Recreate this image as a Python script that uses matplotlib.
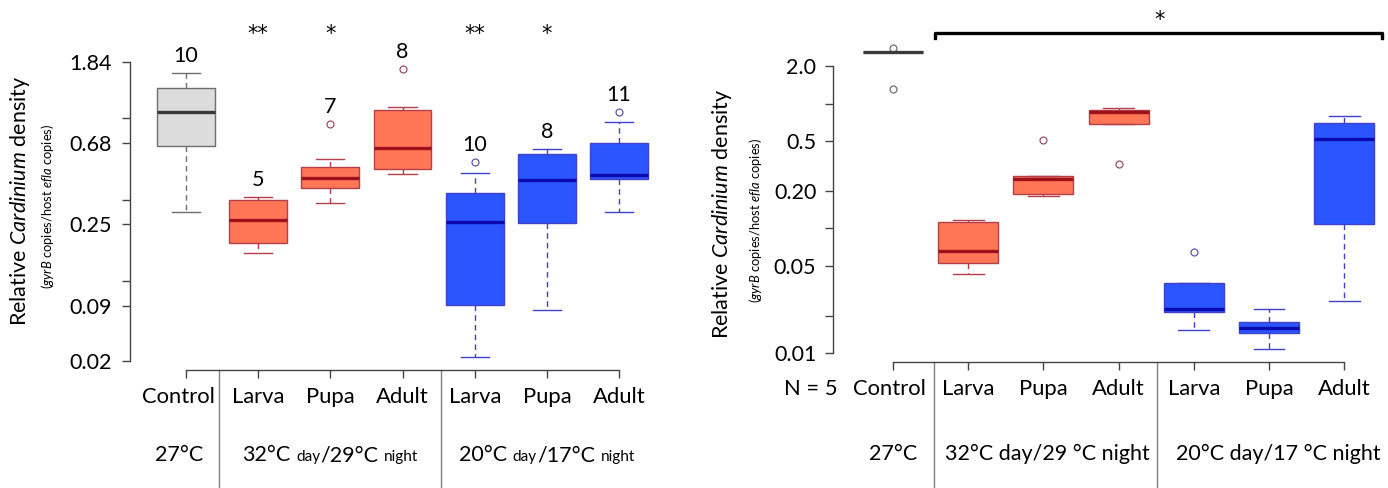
import matplotlib

matplotlib.use("Agg")
import matplotlib.pyplot as plt
from matplotlib.transforms import IdentityTransform, ScaledTranslation, blended_transform_factory

plt.rcParams["font.family"] = ["Lato", "DejaVu Sans"]
plt.rcParams["mathtext.fontset"] = "custom"
plt.rcParams["mathtext.rm"] = "Lato"
plt.rcParams["mathtext.it"] = "Lato:italic"

# ---- data ----
categories = ["Control", "Larva", "Pupa", "Adult", "Larva", "Pupa", "Adult"]
groups = ["control", "hot", "hot", "hot", "cold", "cold", "cold"]

# left panel: summary statistics of relative density
left_whislo = [0.289, 0.174, 0.323, 0.462, 0.048, 0.086, 0.289]
left_q1 = [0.652, 0.197, 0.388, 0.491, 0.091, 0.252, 0.433]
left_med = [0.993, 0.262, 0.440, 0.636, 0.255, 0.429, 0.455]
left_q3 = [1.335, 0.335, 0.503, 1.017, 0.365, 0.591, 0.676]
left_whishi = [1.61, 0.347, 0.555, 1.055, 0.467, 0.629, 0.876]
left_fliers = [[], [], [0.855], [1.687], [0.535], [], [0.991]]
left_n = [10, 5, 7, 8, 10, 8, 11]
left_stars = ["", "**", "*", "", "**", "*", ""]
left_tick_vals = [1.84, 0.68, 0.25, 0.09, 0.0459]
left_tick_labels = ["1.84", "0.68", "0.25", "0.09", "0.02"]
left_minor = [0.922, 0.335, 0.123]

# right panel (N = 5 per group)
right_whislo = [2.61, 0.0430, 0.182, 0.689, 0.0153, 0.0108, 0.0261]
right_q1 = [2.61, 0.0527, 0.189, 0.689, 0.0213, 0.0145, 0.1084]
right_med = [2.61, 0.0659, 0.249, 0.859, 0.0226, 0.0159, 0.522]
right_q3 = [2.61, 0.1124, 0.263, 0.891, 0.0365, 0.0177, 0.702]
right_whishi = [2.61, 0.1167, 0.263, 0.925, 0.0365, 0.0226, 0.798]
right_fliers = [[2.80, 1.31], [], [0.511], [0.329], [0.0647], [], []]
right_tick_vals = [2.0, 0.5, 0.2, 0.05, 0.01]
right_tick_labels = ["2.0", "0.5", "0.20", "0.05", "0.01"]
right_minor = [1.0, 0.1, 0.02]

# ---- styling ----
STYLE = {
    "control": dict(fill="#DCDCDC", edge="#6E6E6E", median="#3A3A3A", flier="#707070"),
    "hot": dict(fill="#FF7657", edge="#B2404A", median="#A0101A", flier="#94506A"),
    "cold": dict(fill="#2B56FF", edge="#4040C8", median="#0A0AB0", flier="#5A5AA8"),
}
AXIS_COLOR = "#444444"
W, H = 1388, 488
STAR_FONT = dict(family="DejaVu Sans", fontsize=15)
XLAB_SIZE = 15.8
TICK_PAD = 6


def draw_boxes(ax, whislo, q1, med, q3, whishi, fliers, width, capwidth):
    for i in range(len(med)):
        st = STYLE[groups[i]]
        stats = [dict(whislo=whislo[i], q1=q1[i], med=med[i], q3=q3[i],
                      whishi=whishi[i], fliers=fliers[i])]
        ax.bxp(stats, positions=[i + 1], widths=width, capwidths=capwidth,
               patch_artist=True, manage_ticks=False,
               boxprops=dict(facecolor=st["fill"], edgecolor=st["edge"], linewidth=1.0),
               whiskerprops=dict(color=st["edge"], linewidth=1.0, linestyle=(0, (4, 3))),
               capprops=dict(color=st["edge"], linewidth=1.0),
               medianprops=dict(color=st["median"], linewidth=2.4, solid_capstyle="butt"),
               flierprops=dict(marker="o", markersize=5, markerfacecolor="none",
                               markeredgecolor=st["flier"], markeredgewidth=0.9))


def style_axes(ax, tick_vals, tick_labels, minor, xbounds, ybounds, ypad, control_shift):
    ax.set_yscale("log")
    for side in ("top", "right"):
        ax.spines[side].set_visible(False)
    for side in ("left", "bottom"):
        ax.spines[side].set_color(AXIS_COLOR)
        ax.spines[side].set_linewidth(1.0)
    ax.spines["left"].set_bounds(*ybounds)
    ax.spines["bottom"].set_bounds(*xbounds)
    ax.set_yticks(tick_vals, tick_labels)
    ax.set_yticks(minor, minor=True)
    ax.yaxis.set_minor_formatter(plt.NullFormatter())
    ax.set_xticks(range(1, len(categories) + 1), categories)
    ax.tick_params(axis="both", which="both", length=6, width=1.0, color=AXIS_COLOR,
                   direction="out")
    ax.tick_params(axis="y", labelsize=15.5, pad=ypad)
    ax.tick_params(axis="x", labelsize=XLAB_SIZE, pad=TICK_PAD)
    ax.patch.set_visible(False)
    # "Control" is nudged left, clear of the group separator
    lab = ax.get_xticklabels()[0]
    lab.set_transform(lab.get_transform() + ScaledTranslation(control_shift / 100, 0, fig.dpi_scale_trans))


def separators(ax, xs, depth):
    trans = blended_transform_factory(ax.transData, ax.transAxes)
    for x in xs:
        ax.plot([x, x], [0, -depth], transform=trans, color="#808080", lw=1.0, clip_on=False)


def draw_runs(fig, ax, xdata, y_top_px, runs):
    # text pieces of mixed size laid out on one baseline, centred on xdata
    renderer = fig.canvas.get_renderer()
    ident = IdentityTransform()
    xc = ax.transData.transform((xdata, 1.0))[0]
    y = H - y_top_px
    items = []
    for s, size in runs:
        if s == " ":
            items.append((None, 0.27 * 15 * fig.dpi / 72))
            continue
        t = fig.text(0, y, s, fontsize=size, transform=ident, va="baseline", ha="left")
        items.append((t, t.get_window_extent(renderer).width))
    x = xc - sum(w for _, w in items) / 2
    for t, w in items:
        if t is not None:
            t.set_x(x)
        x += w


fig = plt.figure(figsize=(W / 100, H / 100), dpi=100)

# ---------------- left panel ----------------
axl = fig.add_axes([130 / W, (H - 370) / H, 520 / W, 360 / H])
draw_boxes(axl, left_whislo, left_q1, left_med, left_q3, left_whishi, left_fliers, 0.8, 0.39)
axl.set_xlim(0.224, 7.429)
axl.set_ylim(0.0410, 3.497)
style_axes(axl, left_tick_vals, left_tick_labels, left_minor, (1, 7),
           (left_tick_vals[-1], left_tick_vals[0]), 7, -8)

for i, n in enumerate(left_n):
    top = max([left_whishi[i]] + left_fliers[i])
    axl.annotate(str(n), (i + 1, top), xytext=(0, 8), textcoords="offset points",
                 ha="center", va="baseline", fontsize=15.5, annotation_clip=False)
star_trans = blended_transform_factory(axl.transData, axl.transAxes)
for i, s in enumerate(left_stars):
    if s:
        axl.text(i + 1, 0.918, s, transform=star_trans, ha="center", va="baseline",
                 clip_on=False, **STAR_FONT)
separators(axl, [1.46, 4.53], (H - 370) / 360)

fig.text(20 / W, 1 - 201 / H, r"Relative $\mathit{Cardinium}$ density", rotation=90,
         ha="center", va="center", fontsize=15.5)
fig.text(48 / W, 1 - 206 / H, r"($\mathit{gyrB}$ copies/host $\mathit{efla}$ copies)",
         rotation=90, ha="center", va="center", fontsize=9.3)

draw_runs(fig, axl, 0.9, 461, [("27°C", 15.5)])
draw_runs(fig, axl, 3, 461, [("32°C", 15.5), (" ", 0), ("day", 11), ("/29°C", 15.5), (" ", 0), ("night", 11)])
draw_runs(fig, axl, 6, 461, [("20°C", 15.5), (" ", 0), ("day", 11), ("/17°C", 15.5), (" ", 0), ("night", 11)])

# ---------------- right panel ----------------
axr = fig.add_axes([833 / W, (H - 362) / H, 552 / W, 357 / H])
draw_boxes(axr, right_whislo, right_q1, right_med, right_q3, right_whishi, right_fliers, 0.8, 0.41)
axr.set_xlim(0.202, 7.543)
axr.set_ylim(0.00847, 6.21)
style_axes(axr, right_tick_vals, right_tick_labels, right_minor, (1, 7),
           (right_tick_vals[-1], right_tick_vals[0]), 6, -4)
separators(axr, [1.55, 4.51], (H - 362) / 357)

br = blended_transform_factory(axr.transData, axr.transAxes)
axr.plot([1.56, 1.56, 7.505, 7.505], [0.907, 0.9216, 0.9216, 0.907], transform=br,
         color="black", lw=2.4, clip_on=False, solid_joinstyle="round")
axr.text(4.55, 0.94, "*", transform=br, ha="center", va="baseline", clip_on=False, **STAR_FONT)
# sample size sits on the same line as the category labels
axr.annotate("N = 5", (0.26, 0), xycoords=br, xytext=(0, -(6 + TICK_PAD)),
             textcoords="offset points", ha="right", va="top", fontsize=XLAB_SIZE,
             annotation_clip=False)

fig.text(722 / W, 1 - 214 / H, r"Relative $\mathit{Cardinium}$ density", rotation=90,
         ha="center", va="center", fontsize=15.5)
fig.text(755 / W, 1 - 220 / H, r"($\mathit{gyrB}$ copies/host $\mathit{efla}$ copies)",
         rotation=90, ha="center", va="center", fontsize=9.3)

draw_runs(fig, axr, 1, 460, [("27°C", 15.5)])
draw_runs(fig, axr, 3.05, 460, [("32°C day/29 °C night", 15.5)])
draw_runs(fig, axr, 6.12, 460, [("20°C day/17 °C night", 15.5)])

fig.savefig("out.png", dpi=100)
